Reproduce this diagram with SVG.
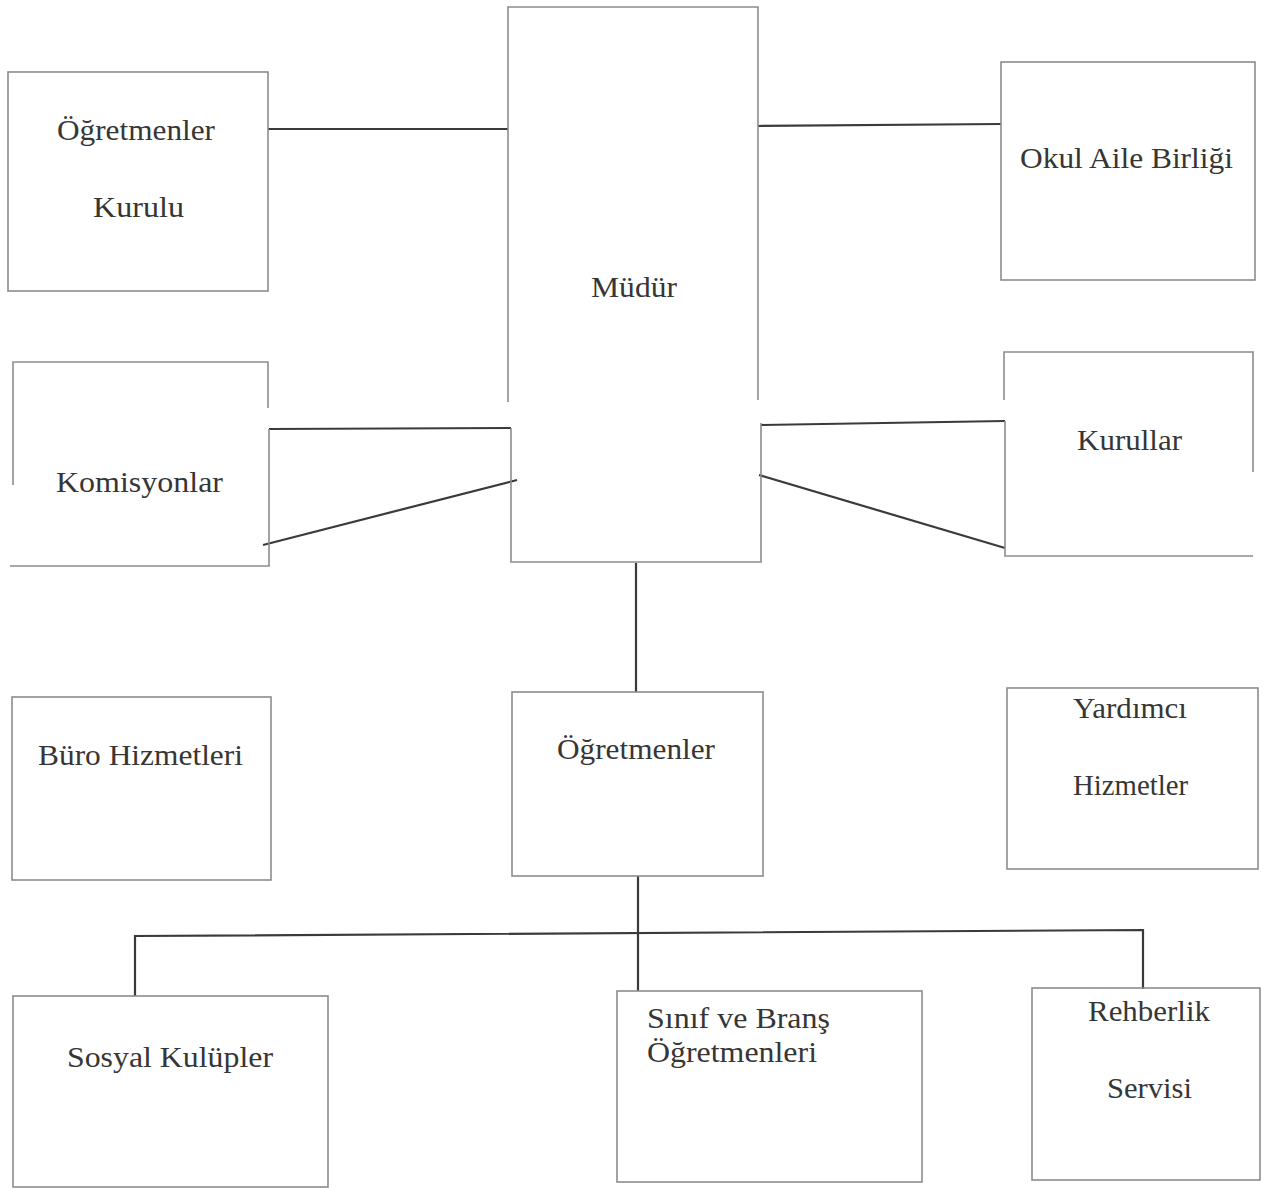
<svg xmlns="http://www.w3.org/2000/svg" width="1273" height="1189" viewBox="0 0 1273 1189">
<style>
.box{fill:none;stroke:#8c8c8c;stroke-width:1.6}
.conn{fill:none;stroke:#3a3a3a;stroke-width:2.2}
.t{font-family:"Liberation Serif","Times New Roman",serif;font-size:29px;fill:#363636}
</style>
<rect width="1273" height="1189" fill="#ffffff"/>
<g id="connectors">
<polyline class="conn" points="268,129 508,129"/>
<polyline class="conn" points="758,126 1001,124"/>
<polyline class="conn" points="269,429 511,428"/>
<polyline class="conn" points="263,545 517,480"/>
<polyline class="conn" points="761,425 1005,421"/>
<polyline class="conn" points="759,475 1005,548"/>
<polyline class="conn" points="636,563 636,692"/>
<polyline class="conn" points="638,876 638,991"/>
<polyline class="conn" points="135,996 135,936 1143,930 1143,989"/>
</g>
<g id="node-mudur">
<path class="box" d="M508,402 V7 H758 V400 M511,428 V562 H761 V423"/>
<text class="t" x="591" y="297" textLength="86" lengthAdjust="spacingAndGlyphs">Müdür</text>
</g>
<g id="node-ogretmenler-kurulu">
<rect class="box" x="8" y="72" width="260" height="219"/>
<text class="t" x="57" y="140" textLength="158" lengthAdjust="spacingAndGlyphs">Öğretmenler</text>
<text class="t" x="93" y="217" textLength="91" lengthAdjust="spacingAndGlyphs">Kurulu</text>
</g>
<g id="node-okul-aile">
<rect class="box" x="1001" y="62" width="254" height="218"/>
<text class="t" x="1020" y="168" textLength="213" lengthAdjust="spacingAndGlyphs">Okul Aile Birliği</text>
</g>
<g id="node-komisyonlar">
<path class="box" d="M13,485 V362 H268 V408 M269,429 V566 H10"/>
<text class="t" x="56" y="492" textLength="167" lengthAdjust="spacingAndGlyphs">Komisyonlar</text>
</g>
<g id="node-kurullar">
<path class="box" d="M1004,400 V352 H1253 V472 M1005,421 V556 H1253"/>
<text class="t" x="1077" y="450" textLength="105" lengthAdjust="spacingAndGlyphs">Kurullar</text>
</g>
<g id="node-buro">
<rect class="box" x="12" y="697" width="259" height="183"/>
<text class="t" x="38" y="765" textLength="205" lengthAdjust="spacingAndGlyphs">Büro Hizmetleri</text>
</g>
<g id="node-ogretmenler">
<rect class="box" x="512" y="692" width="251" height="184"/>
<text class="t" x="557" y="759" textLength="158" lengthAdjust="spacingAndGlyphs">Öğretmenler</text>
</g>
<g id="node-yardimci">
<rect class="box" x="1007" y="688" width="251" height="181"/>
<text class="t" x="1073" y="718" textLength="114" lengthAdjust="spacingAndGlyphs">Yardımcı</text>
<text class="t" x="1073" y="795" textLength="115" lengthAdjust="spacingAndGlyphs">Hizmetler</text>
</g>
<g id="node-sosyal">
<rect class="box" x="13" y="996" width="315" height="191"/>
<text class="t" x="67" y="1067" textLength="206" lengthAdjust="spacingAndGlyphs">Sosyal Kulüpler</text>
</g>
<g id="node-sinif">
<rect class="box" x="617" y="991" width="305" height="191"/>
<text class="t" x="647" y="1028" textLength="183" lengthAdjust="spacingAndGlyphs">Sınıf ve Branş</text>
<text class="t" x="647" y="1062" textLength="170" lengthAdjust="spacingAndGlyphs">Öğretmenleri</text>
</g>
<g id="node-rehberlik">
<rect class="box" x="1032" y="988" width="228" height="192"/>
<text class="t" x="1088" y="1021" textLength="122" lengthAdjust="spacingAndGlyphs">Rehberlik</text>
<text class="t" x="1107" y="1098" textLength="85" lengthAdjust="spacingAndGlyphs">Servisi</text>
</g>
</svg>
